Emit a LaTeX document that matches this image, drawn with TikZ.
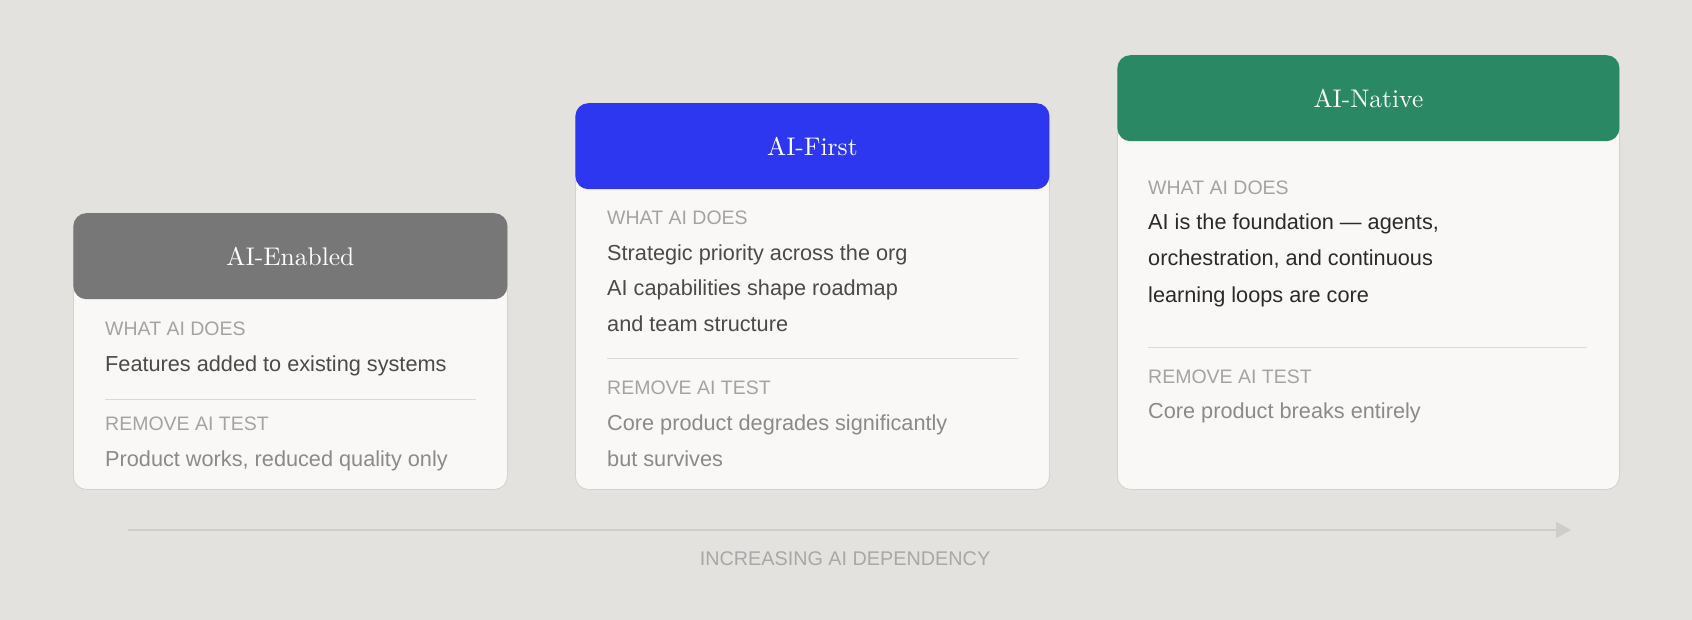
\documentclass[tikz,border=0pt]{standalone}
\usepackage{fontspec}
\newfontfamily\cardsans{Liberation Sans}
\newfontfamily\cardserif{lmroman10-regular}[Extension=.otf]
\usetikzlibrary{arrows.meta,positioning}
\definecolor{paper}{HTML}{E3E2DE}
\definecolor{cardfill}{HTML}{F9F8F6}
\definecolor{cardline}{HTML}{D4D2CE}
\definecolor{grayhead}{HTML}{777777}
\definecolor{bluehead}{HTML}{2D37F0}
\definecolor{greenhead}{HTML}{2A8864}
\definecolor{tagtext}{HTML}{A3A3A3}
\definecolor{dotext}{HTML}{4A4A4A}
\definecolor{coretext}{HTML}{2A2A2A}
\definecolor{testtext}{HTML}{8A8A8A}
\definecolor{rulecol}{HTML}{DCDAD6}
\definecolor{axiscol}{HTML}{CFCDC9}
\definecolor{axistext}{HTML}{A8A8A8}

\begin{document}
\begin{tikzpicture}[x=1pt, y=-1pt,
  card/.style={draw=cardline, line width=0.8pt, fill=cardfill, rounded corners=13pt, anchor=north west, inner sep=0pt},
  head/.style={rounded corners=13pt, anchor=north, inner sep=0pt, minimum height=86pt, text=white, font=\cardserif\fontsize{25.5}{30}\selectfont},
  tag/.style={anchor=base west, inner sep=0pt, text=tagtext, font=\cardsans\fontsize{19.5}{22}\selectfont},
  does/.style={anchor=base west, inner sep=0pt, text=dotext, font=\cardsans\fontsize{21.7}{25}\selectfont},
  test/.style={does, text=testtext},
  rule/.style={draw=rulecol, line width=1pt},
  axis/.style={draw=axiscol, line width=2pt, -{Triangle[length=15pt, width=16pt]}}
]
\useasboundingbox[fill=paper] (0,0) rectangle (1692,620);

% AI-Enabled
\node[card, minimum width=434pt, minimum height=276pt] (enabled) at (73,213) {};
\node[head, fill=grayhead, minimum width=434pt] (enabledHead) at (enabled.north) {AI-Enabled};
\node[tag] (enabledWhat) at (105,335) {WHAT AI DOES};
\node[does] (enabledDoes) at (105,371) {Features added to existing systems};
\draw[rule] (105,399) -- (476,399);
\node[tag] (enabledTest) at (105,430) {REMOVE AI TEST};
\node[test] (enabledResult) at (105,466) {Product works, reduced quality only};

% AI-First
\node[card, minimum width=474pt, minimum height=386pt] (first) at (575,103) {};
\node[head, fill=bluehead, minimum width=474pt] (firstHead) at (first.north) {AI-First};
\node[tag] (firstWhat) at (607,225) {WHAT AI DOES};
\node[does] (firstDoesA) at (607,261) {Strategic priority across the org};
\node[does] (firstDoesB) at (607,296) {AI capabilities shape roadmap};
\node[does] (firstDoesC) at (607,331) {and team structure};
\draw[rule] (607,358) -- (1018,358);
\node[tag] (firstTest) at (607,394) {REMOVE AI TEST};
\node[test] (firstResultA) at (607,430) {Core product degrades significantly};
\node[test] (firstResultB) at (607,466) {but survives};

% AI-Native
\node[card, minimum width=502pt, minimum height=434pt] (native) at (1117,55) {};
\node[head, fill=greenhead, minimum width=502pt] (nativeHead) at (native.north) {AI-Native};
\node[tag] (nativeWhat) at (1148,195) {WHAT AI DOES};
\node[does, text=coretext] (nativeDoesA) at (1148,230) {AI is the foundation — agents,};
\node[does, text=coretext] (nativeDoesB) at (1148,266) {orchestration, and continuous};
\node[does, text=coretext] (nativeDoesC) at (1148,302) {learning loops are core};
\draw[rule] (1148,347) -- (1587,347);
\node[tag] (nativeTest) at (1148,383) {REMOVE AI TEST};
\node[test] (nativeResult) at (1148,418) {Core product breaks entirely};

% dependency axis
\coordinate (axisStart) at (128,530);
\coordinate (axisEnd) at (1571,530);
\draw[axis] (axisStart) -- (axisEnd);
\node[anchor=base, inner sep=0pt, text=axistext, font=\cardsans\fontsize{19.8}{22}\selectfont] (axisLabel) at (845,565) {INCREASING AI DEPENDENCY};
\end{tikzpicture}
\end{document}
